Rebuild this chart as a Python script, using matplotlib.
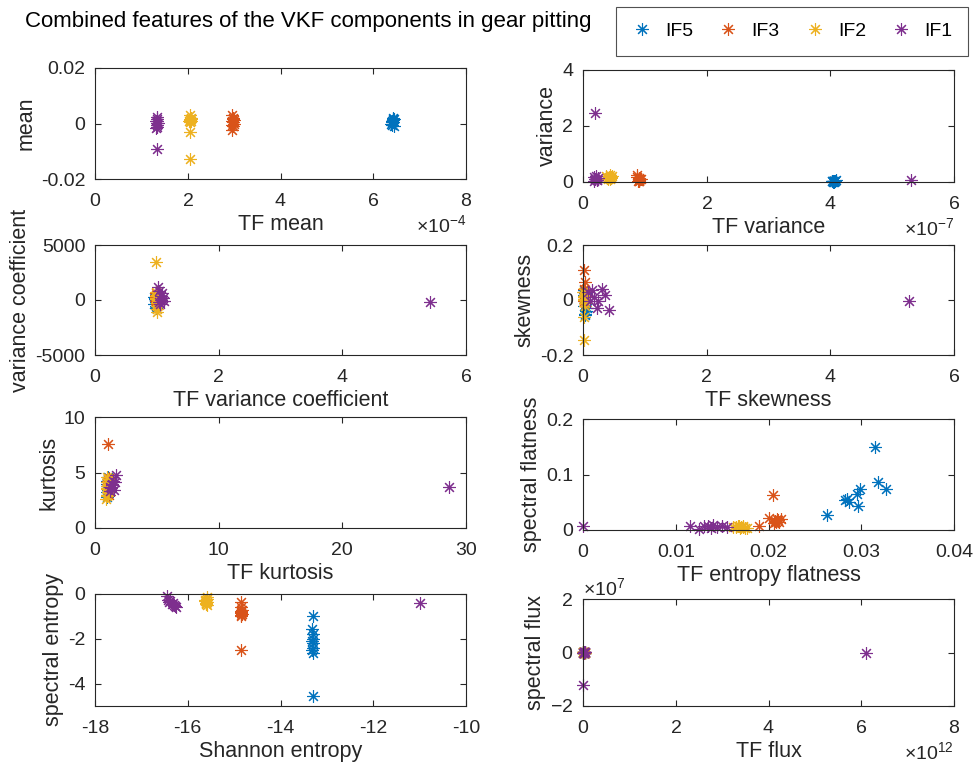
import numpy as np
import matplotlib
matplotlib.use("Agg")
import matplotlib.pyplot as plt
from matplotlib.ticker import FuncFormatter, ScalarFormatter

plt.rcParams['font.family'] = ['Liberation Sans', 'DejaVu Sans']
plt.rcParams['mathtext.fontset'] = 'custom'
plt.rcParams['mathtext.rm'] = 'Liberation Sans'
plt.rcParams['axes.unicode_minus'] = False

# VKF components, in plotting order
components = ['IF5', 'IF3', 'IF2', 'IF1']
colors = ['#0072BD', '#D95319', '#EDB120', '#7E2F8E']

# feature pairs: one row per component (IF5, IF3, IF2, IF1), 10 samples each
tf_mean = [
    [6.41e-4, 6.43e-4, 6.40e-4, 6.44e-4, 6.42e-4, 6.39e-4, 6.43e-4, 6.41e-4, 6.44e-4, 6.42e-4],
    [2.96e-4, 2.98e-4, 2.95e-4, 2.99e-4, 2.97e-4, 2.96e-4, 2.98e-4, 2.97e-4, 2.95e-4, 2.99e-4],
    [2.04e-4, 2.06e-4, 2.05e-4, 2.03e-4, 2.07e-4, 2.05e-4, 2.04e-4, 2.06e-4, 2.05e-4, 2.05e-4],
    [1.33e-4, 1.34e-4, 1.32e-4, 1.35e-4, 1.33e-4, 1.34e-4, 1.32e-4, 1.33e-4, 1.34e-4, 1.33e-4],
]
mean = [
    [0.0010, 0.0020, 0.0005, -0.0008, 0.0015, 0.0000, 0.0012, -0.0004, 0.0018, 0.0007],
    [0.0030, 0.0015, 0.0008, 0.0000, -0.0010, -0.0025, 0.0020, 0.0005, -0.0005, 0.0012],
    [0.0030, 0.0020, 0.0015, 0.0010, 0.0008, 0.0012, 0.0005, 0.0018, -0.0030, -0.0128],
    [0.0025, 0.0015, 0.0008, 0.0003, -0.0005, -0.0012, -0.0018, 0.0010, -0.0092, 0.0002],
]

tf_variance = [
    [4.03e-7, 4.06e-7, 4.08e-7, 4.04e-7, 4.07e-7, 4.05e-7, 4.09e-7, 4.02e-7, 4.06e-7, 4.05e-7],
    [0.88e-7, 0.90e-7, 0.92e-7, 0.89e-7, 0.91e-7, 0.90e-7, 0.93e-7, 0.87e-7, 0.90e-7, 0.91e-7],
    [0.38e-7, 0.42e-7, 0.45e-7, 0.40e-7, 0.47e-7, 0.43e-7, 0.39e-7, 0.44e-7, 0.41e-7, 0.46e-7],
    [0.17e-7, 0.20e-7, 0.22e-7, 0.18e-7, 0.24e-7, 0.19e-7, 0.21e-7, 0.23e-7, 0.20e-7, 5.30e-7],
]
variance = [
    [0.02, 0.05, 0.03, 0.01, 0.04, 0.02, 0.06, 0.03, 0.01, 0.04],
    [0.25, 0.15, 0.10, 0.05, 0.02, 0.08, 0.12, 0.18, 0.03, 0.06],
    [0.22, 0.18, 0.15, 0.12, 0.20, 0.10, 0.16, 0.25, 0.14, 0.19],
    [0.18, 0.12, 0.08, 0.05, 0.15, 0.10, 0.20, 0.07, 2.48, 0.07],
]

tf_var_coef = [
    [0.96, 0.98, 0.97, 0.99, 0.98, 0.97, 0.96, 0.99, 0.98, 0.97],
    [0.98, 1.00, 0.99, 1.01, 0.99, 1.00, 0.98, 1.00, 0.99, 1.01],
    [0.99, 1.00, 0.98, 1.01, 0.99, 1.00, 0.98, 1.00, 0.99, 1.00],
    [1.02, 1.05, 1.08, 1.10, 1.04, 1.06, 1.12, 1.03, 1.07, 5.42],
]
var_coef = [
    [300, -700, 150, -200, -500, 50, -350, 200, -100, 100],
    [600, -500, 300, -200, 100, -350, 450, 0, -100, 200],
    [3500, -1100, 700, -800, 400, -300, 200, -500, 100, 500],
    [1200, -400, 600, 200, -200, 400, -100, 800, 0, -150],
]

tf_skewness = [
    [0.02, 0.04, 0.01, 0.05, 0.03, 0.02, 0.06, 0.01, 0.04, 0.03],
    [0.02, 0.03, 0.01, 0.04, 0.02, 0.03, 0.01, 0.02, 0.03, 0.02],
    [0.01, 0.02, 0.00, 0.03, 0.02, 0.01, 0.04, 0.02, 0.01, 0.03],
    [0.08, 0.15, 0.22, 0.30, 0.35, 0.42, 0.12, 0.25, 0.18, 5.28],
]
skewness = [
    [0.035, -0.050, 0.020, -0.040, 0.010, -0.020, -0.030, 0.000, 0.025, -0.055],
    [0.110, 0.065, 0.040, 0.020, 0.005, -0.010, 0.030, -0.005, 0.015, 0.010],
    [-0.145, -0.060, 0.030, 0.020, 0.010, 0.000, -0.010, 0.005, 0.015, -0.020],
    [0.030, 0.035, -0.030, 0.040, 0.020, -0.035, -0.005, -0.005, 0.010, -0.005],
]

tf_kurtosis = [
    [0.95, 1.00, 1.05, 0.98, 1.02, 0.97, 1.03, 1.00, 0.99, 1.04],
    [1.05, 1.10, 1.08, 1.12, 1.06, 1.10, 1.09, 1.07, 1.11, 1.08],
    [0.92, 0.98, 1.02, 0.95, 1.00, 0.97, 1.04, 0.99, 0.96, 1.01],
    [1.20, 1.30, 1.40, 1.45, 1.50, 1.35, 1.60, 1.25, 1.70, 28.6],
]
kurtosis = [
    [2.8, 3.2, 3.6, 4.0, 4.4, 3.0, 3.4, 3.8, 4.2, 4.6],
    [7.6, 4.5, 4.0, 3.6, 3.2, 3.0, 3.8, 4.2, 3.4, 4.4],
    [2.6, 2.9, 3.2, 3.5, 3.8, 4.1, 4.4, 3.0, 3.6, 4.6],
    [3.3, 3.6, 4.0, 4.2, 3.4, 3.9, 4.1, 3.7, 4.8, 3.7],
]

tf_entropy_flatness = [
    [0.0263, 0.0283, 0.0285, 0.0287, 0.0295, 0.0296, 0.0299, 0.0315, 0.0318, 0.0327],
    [0.0190, 0.0200, 0.0205, 0.0207, 0.0208, 0.0210, 0.0211, 0.0213, 0.0209, 0.0206],
    [0.0162, 0.0165, 0.0167, 0.0169, 0.0170, 0.0172, 0.0173, 0.0175, 0.0177, 0.0168],
    [0.0115, 0.0125, 0.0130, 0.0135, 0.0140, 0.0145, 0.0150, 0.0155, 0.0138, 0.0000],
]
spectral_flatness = [
    [0.027, 0.054, 0.055, 0.051, 0.065, 0.043, 0.073, 0.149, 0.086, 0.074],
    [0.008, 0.022, 0.063, 0.017, 0.014, 0.018, 0.015, 0.019, 0.020, 0.012],
    [0.006, 0.005, 0.007, 0.004, 0.006, 0.008, 0.005, 0.004, 0.003, 0.007],
    [0.007, 0.001, 0.008, 0.007, 0.009, 0.006, 0.008, 0.006, 0.004, 0.007],
]

shannon_entropy = [
    [-13.30, -13.31, -13.29, -13.30, -13.32, -13.30, -13.29, -13.31, -13.30, -13.30],
    [-14.85, -14.86, -14.84, -14.85, -14.86, -14.85, -14.84, -14.86, -14.85, -14.85],
    [-15.58, -15.60, -15.62, -15.59, -15.61, -15.60, -15.58, -15.62, -15.60, -15.59],
    [-16.45, -16.40, -16.35, -16.30, -16.25, -16.38, -16.32, -16.28, -16.42, -11.00],
]
spectral_entropy = [
    [-1.0, -1.55, -1.8, -2.0, -2.1, -2.2, -2.4, -2.5, -2.65, -4.55],
    [-0.35, -0.6, -0.7, -0.75, -0.8, -0.85, -0.9, -0.95, -1.0, -2.5],
    [-0.15, -0.25, -0.3, -0.35, -0.4, -0.45, -0.5, -0.28, -0.38, -0.22],
    [-0.10, -0.35, -0.45, -0.50, -0.60, -0.30, -0.40, -0.55, -0.25, -0.40],
]

tf_flux = [
    [0.02e12, 0.03e12, 0.01e12, 0.04e12, 0.02e12, 0.03e12, 0.02e12, 0.01e12, 0.03e12, 0.02e12],
    [0.03e12, 0.02e12, 0.04e12, 0.01e12, 0.03e12, 0.02e12, 0.05e12, 0.02e12, 0.03e12, 0.01e12],
    [0.01e12, 0.02e12, 0.03e12, 0.02e12, 0.01e12, 0.04e12, 0.02e12, 0.03e12, 0.01e12, 0.02e12],
    [0.02e12, 0.04e12, 0.01e12, 0.05e12, 0.03e12, 0.02e12, 0.04e12, 0.01e12, 0.02e12, 6.10e12],
]
spectral_flux = [
    [0.01e7, -0.01e7, 0.02e7, 0.00e7, -0.02e7, 0.01e7, 0.00e7, -0.01e7, 0.02e7, 0.00e7],
    [0.02e7, 0.00e7, -0.01e7, 0.01e7, -0.02e7, 0.03e7, 0.00e7, 0.01e7, -0.01e7, 0.02e7],
    [0.00e7, 0.01e7, -0.02e7, 0.02e7, 0.01e7, -0.01e7, 0.00e7, 0.03e7, -0.01e7, 0.01e7],
    [0.02e7, 0.01e7, -0.01e7, 0.03e7, 0.00e7, -0.02e7, 0.01e7, -1.22e7, 0.02e7, -0.03e7],
]

# (x data, y data, xlabel, ylabel, xlim, ylim, xticks, yticks, sci-x, sci-y)
panels = [
    (tf_mean, mean, 'TF mean', 'mean', (0, 8e-4), (-0.02, 0.02),
     [0, 2e-4, 4e-4, 6e-4, 8e-4], [-0.02, 0, 0.02], True, False),
    (tf_variance, variance, 'TF variance', 'variance', (0, 6e-7), (0, 4),
     [0, 2e-7, 4e-7, 6e-7], [0, 2, 4], True, False),
    (tf_var_coef, var_coef, 'TF variance coefficient', 'variance coefficient', (0, 6), (-5000, 5000),
     [0, 2, 4, 6], [-5000, 0, 5000], False, False),
    (tf_skewness, skewness, 'TF skewness', 'skewness', (0, 6), (-0.2, 0.2),
     [0, 2, 4, 6], [-0.2, 0, 0.2], False, False),
    (tf_kurtosis, kurtosis, 'TF kurtosis', 'kurtosis', (0, 30), (0, 10),
     [0, 10, 20, 30], [0, 5, 10], False, False),
    (tf_entropy_flatness, spectral_flatness, 'TF entropy flatness', 'spectral flatness', (0, 0.04), (0, 0.2),
     [0, 0.01, 0.02, 0.03, 0.04], [0, 0.1, 0.2], False, False),
    (shannon_entropy, spectral_entropy, 'Shannon entropy', 'spectral entropy', (-18, -10), (-5, 0),
     [-18, -16, -14, -12, -10], [-4, -2, 0], False, False),
    (tf_flux, spectral_flux, 'TF flux', 'spectral flux', (0, 8e12), (-2e7, 2e7),
     [0, 2e12, 4e12, 6e12, 8e12], [-2e7, 0, 2e7], True, True),
]

# axes boxes in pixels: left, top, right, bottom
boxes = [
    (95, 68, 466, 179), (583, 70, 954, 182),
    (95, 245, 466, 355), (583, 245, 954, 355),
    (95, 417, 466, 528), (583, 419, 954, 530),
    (95, 594, 466, 706), (583, 599, 954, 706),
]

W, H = 974, 771
fig = plt.figure(figsize=(W / 100, H / 100), dpi=100)
ink = '#262626'
plain = FuncFormatter(lambda v, p: '%g' % v)

handles = []
for (xs, ys, xl, yl, xlim, ylim, xt, yt, sx, sy), (l, t, r, b) in zip(panels, boxes):
    ax = fig.add_axes([l / W, 1 - b / H, (r - l) / W, (b - t) / H])
    for x, y, c, name in zip(xs, ys, colors, components):
        # markers sitting on the axis edge are drawn whole
        h, = ax.plot(x, y, ls='none', marker=(8, 2, 0), color=c, ms=9, mew=0.8,
                     label=name, clip_on=False)
        if len(handles) < 4:
            handles.append(h)
    ax.set_xlim(xlim)
    ax.set_ylim(ylim)
    ax.set_xticks(xt)
    ax.set_yticks(yt)
    for axis, sci in ((ax.xaxis, sx), (ax.yaxis, sy)):
        if sci:
            fmt = ScalarFormatter(useMathText=True)
            fmt.set_powerlimits((0, 0))
            axis.set_major_formatter(fmt)
        else:
            axis.set_major_formatter(plain)
    ax.tick_params(direction='in', top=True, right=True, length=4, width=0.8,
                   labelsize=14, colors=ink, labelcolor=ink)
    ax.tick_params(axis='x', pad=10)
    ax.tick_params(axis='y', pad=7)
    for off in (ax.xaxis.get_offset_text(), ax.yaxis.get_offset_text()):
        off.set_fontsize(14)
        off.set_color(ink)
    for s in ax.spines.values():
        s.set_linewidth(0.8)
        s.set_color(ink)
    ax.set_xlabel(xl, fontsize=15.5, color=ink, labelpad=3)
    ax.set_ylabel(yl, fontsize=15.5, color=ink, labelpad=3)

fig.text(25 / W, 1 - 22 / H, 'Combined features of the VKF components in gear pitting',
         fontsize=16, va='center', ha='left', color='black')

leg = fig.legend(handles=handles, loc='upper right', bbox_to_anchor=(968 / W, 1 - 7 / H),
                 ncol=4, fontsize=14, frameon=True, fancybox=False, edgecolor=ink,
                 borderaxespad=0, handlelength=1.0, handletextpad=0.7, columnspacing=1.3,
                 borderpad=0.8)
leg.get_frame().set_linewidth(0.8)

fig.savefig('out.png', dpi=100, facecolor='white')
